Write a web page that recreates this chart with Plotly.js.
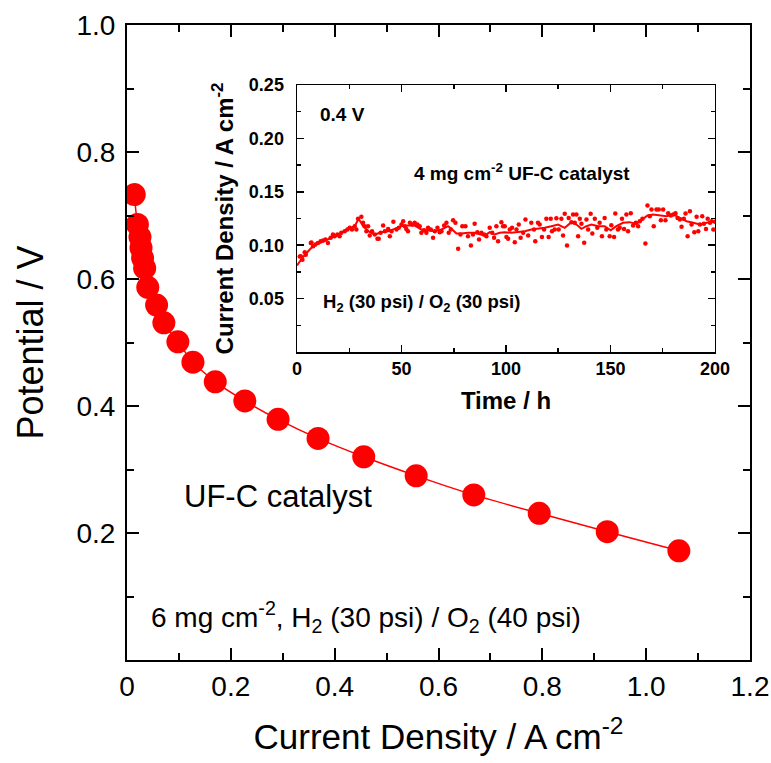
<!DOCTYPE html>
<html>
<head>
<meta charset="utf-8">
<script src="https://cdn.plot.ly/plotly-3.0.1.min.js"></script>
<style>html,body{margin:0;padding:0;background:#fff;}#chart{width:771px;height:763px;}</style>
</head>
<body>
<div id="chart"></div>
<script>
// Main polarization curve
const currentDensity = [0.014, 0.020, 0.025, 0.027, 0.030, 0.034, 0.040, 0.057, 0.071, 0.098, 0.127, 0.170, 0.227, 0.291, 0.368, 0.456, 0.557, 0.668, 0.794, 0.925, 1.063];
const potential = [0.733, 0.686, 0.666, 0.649, 0.633, 0.617, 0.587, 0.559, 0.531, 0.501, 0.469, 0.438, 0.408, 0.379, 0.349, 0.320, 0.290, 0.260, 0.231, 0.202, 0.172];

// Inset: durability test at 0.4 V (raw points)
const dotTime = [1.3, 1.8, 2.6, 3.7, 4.2, 6.6, 6.9, 7.7, 8.8, 10.0, 11.3, 12.5, 13.6, 14.8, 16.1, 17.2, 18.0, 19.3, 20.4, 21.2, 22.8, 24.1, 25.2, 26.3, 27.6, 28.4, 29.2, 30.8, 31.6, 32.4, 33.2, 34.0, 34.8, 35.9, 37.2, 38.5, 39.1, 40.0, 41.2, 42.0, 43.6, 44.4, 45.2, 46.1, 47.6, 48.7, 50.0, 50.8, 51.6, 52.3, 53.1, 54.0, 55.1, 56.3, 57.6, 58.7, 59.5, 60.8, 61.9, 62.7, 64.0, 65.1, 65.9, 67.2, 68.3, 69.1, 70.4, 71.5, 72.6, 73.6, 74.7, 75.8, 77.1, 78.2, 79.1, 80.6, 81.8, 83.2, 84.2, 85.0, 86.3, 87.1, 88.2, 89.5, 90.6, 92.2, 93.4, 94.3, 95.4, 96.2, 97.8, 98.6, 99.4, 100.2, 101.0, 101.8, 102.9, 104.2, 105.0, 106.1, 107.0, 108.2, 109.3, 110.6, 112.1, 113.4, 114.0, 115.3, 116.1, 117.2, 118.2, 119.3, 120.4, 121.4, 122.0, 123.3, 124.1, 125.2, 126.5, 127.3, 128.1, 129.2, 130.0, 131.3, 132.1, 132.9, 133.7, 134.5, 135.3, 136.1, 137.4, 138.5, 139.3, 140.5, 141.3, 142.5, 143.7, 144.8, 145.9, 147.2, 148.0, 149.6, 150.4, 151.7, 152.3, 153.6, 154.4, 155.5, 156.5, 157.6, 158.4, 159.7, 160.8, 162.1, 163.2, 164.0, 165.3, 166.7, 167.7, 168.8, 169.6, 170.7, 172.0, 173.1, 174.1, 175.2, 176.3, 177.6, 178.9, 180.0, 181.1, 182.1, 183.2, 184.0, 185.1, 185.9, 186.9, 188.0, 188.8, 190.1, 191.2, 192.0, 192.8, 193.9, 194.7, 195.7, 196.5, 197.6, 198.4, 199.2, 200.0];
const dotCurrent = [0.0895, 0.0897, 0.0863, 0.0934, 0.0910, 0.1020, 0.1026, 0.0990, 0.1006, 0.1020, 0.1038, 0.1044, 0.1053, 0.1020, 0.1069, 0.1100, 0.1084, 0.1100, 0.1084, 0.1116, 0.1130, 0.1147, 0.1163, 0.1147, 0.1178, 0.1147, 0.1247, 0.1266, 0.1210, 0.1178, 0.1130, 0.1178, 0.1090, 0.1130, 0.1100, 0.1060, 0.1060, 0.1116, 0.1184, 0.1130, 0.1153, 0.1084, 0.1130, 0.1219, 0.1147, 0.1163, 0.1194, 0.1225, 0.1178, 0.1153, 0.1130, 0.1210, 0.1194, 0.1210, 0.1194, 0.1178, 0.1116, 0.1140, 0.1116, 0.1163, 0.1147, 0.1069, 0.1130, 0.1163, 0.1122, 0.1130, 0.1184, 0.1210, 0.1116, 0.1147, 0.1234, 0.1210, 0.0966, 0.1100, 0.1178, 0.1178, 0.1084, 0.0997, 0.1100, 0.1200, 0.1122, 0.1053, 0.1116, 0.1100, 0.1084, 0.1163, 0.1116, 0.1069, 0.1178, 0.1038, 0.1216, 0.1178, 0.1178, 0.1078, 0.1060, 0.1147, 0.1163, 0.1028, 0.1147, 0.1194, 0.1069, 0.1116, 0.1240, 0.1090, 0.1210, 0.1147, 0.1038, 0.1210, 0.1194, 0.1078, 0.1147, 0.1247, 0.1078, 0.1247, 0.1130, 0.1147, 0.1253, 0.1147, 0.1247, 0.1090, 0.1294, 0.0997, 0.1256, 0.1216, 0.1288, 0.1210, 0.1288, 0.1084, 0.1247, 0.1200, 0.1022, 0.1240, 0.1147, 0.1294, 0.1110, 0.1247, 0.1163, 0.1210, 0.1084, 0.1256, 0.1147, 0.1084, 0.1188, 0.1078, 0.1297, 0.1147, 0.1163, 0.1247, 0.1153, 0.1288, 0.1130, 0.1300, 0.1184, 0.1210, 0.1178, 0.1225, 0.1247, 0.1016, 0.1372, 0.1272, 0.1334, 0.1178, 0.1334, 0.1334, 0.1234, 0.1334, 0.1234, 0.1300, 0.1278, 0.1288, 0.1300, 0.1256, 0.1240, 0.1172, 0.1247, 0.1297, 0.1084, 0.1319, 0.1194, 0.1122, 0.1266, 0.1130, 0.1194, 0.1272, 0.1200, 0.1153, 0.1247, 0.1210, 0.1225, 0.1147, 0.1219];

// Inset: smoothed trend line
const lineTime = [0.0, 2.9, 6.1, 8.5, 11.7, 14.8, 18.0, 21.2, 24.4, 27.6, 29.5, 31.6, 34.3, 37.2, 40.4, 43.6, 46.8, 50.0, 53.1, 56.3, 59.5, 62.7, 65.9, 69.1, 72.3, 73.9, 76.3, 78.7, 81.8, 85.0, 87.5, 89.8, 92.2, 94.6, 97.0, 99.4, 102.6, 105.8, 109.0, 112.1, 115.3, 118.5, 121.7, 124.9, 128.1, 131.3, 133.7, 136.1, 138.5, 140.9, 144.1, 147.2, 150.1, 152.8, 156.0, 159.2, 162.4, 164.8, 167.7, 170.4, 173.6, 176.8, 180.0, 183.2, 186.4, 189.6, 192.8, 196.0, 200.0];
const lineCurrent = [0.0810, 0.0890, 0.0960, 0.1006, 0.1028, 0.1053, 0.1084, 0.1116, 0.1153, 0.1178, 0.1247, 0.1178, 0.1130, 0.1100, 0.1122, 0.1130, 0.1153, 0.1178, 0.1184, 0.1184, 0.1147, 0.1140, 0.1130, 0.1147, 0.1178, 0.1153, 0.1109, 0.1109, 0.1116, 0.1116, 0.1100, 0.1090, 0.1122, 0.1100, 0.1116, 0.1122, 0.1116, 0.1122, 0.1130, 0.1147, 0.1153, 0.1163, 0.1178, 0.1194, 0.1163, 0.1216, 0.1194, 0.1153, 0.1178, 0.1194, 0.1178, 0.1178, 0.1140, 0.1178, 0.1210, 0.1216, 0.1200, 0.1234, 0.1278, 0.1288, 0.1278, 0.1272, 0.1288, 0.1256, 0.1225, 0.1210, 0.1194, 0.1210, 0.1225];

// Tick labels
const mainXTicks = [0, 0.2, 0.4, 0.6, 0.8, 1.0, 1.2];
const mainXText = ["0", "0.2", "0.4", "0.6", "0.8", "1.0", "1.2"];
const mainYTicks = [0.2, 0.4, 0.6, 0.8, 1.0];
const mainYText = ["0.2", "0.4", "0.6", "0.8", "1.0"];
const insetXTicks = [0, 50, 100, 150, 200];
const insetYTicks = [0.05, 0.10, 0.15, 0.20, 0.25];
const insetYText = ["0.05", "0.10", "0.15", "0.20", "0.25"];

const RED = "#ff0000";
const FONT = "Liberation Sans, Arial, sans-serif";

const traces = [
  {x: currentDensity, y: potential, type: "scatter", mode: "lines+markers",
   line: {color: RED, width: 1.5, shape: "spline", smoothing: 0.6},
   marker: {color: RED, size: 23}, xaxis: "x", yaxis: "y", hoverinfo: "skip"},
  {x: dotTime, y: dotCurrent, type: "scatter", mode: "markers",
   marker: {color: RED, size: 4.5}, xaxis: "x2", yaxis: "y2", hoverinfo: "skip"},
  {x: lineTime, y: lineCurrent, type: "scatter", mode: "lines",
   line: {color: RED, width: 2}, xaxis: "x2", yaxis: "y2", hoverinfo: "skip"}
];

const mainAxisCommon = {
  showline: true, linecolor: "#000", linewidth: 2, mirror: "allticks",
  ticks: "inside", ticklen: 12, tickwidth: 2, tickcolor: "#000",
  showgrid: false, zeroline: false,
  tickfont: {family: FONT, size: 28, color: "#000"}
};
const insetAxisCommon = {
  showline: true, linecolor: "#000", linewidth: 1.5, mirror: "allticks",
  ticks: "inside", ticklen: 7, tickwidth: 1.5, tickcolor: "#000",
  showgrid: false, zeroline: false,
  tickfont: {family: FONT, size: 18, color: "#000", weight: "bold"}
};

const layout = {
  width: 771, height: 763,
  margin: {l: 127, r: 21, t: 25, b: 103},
  paper_bgcolor: "#fff", plot_bgcolor: "rgba(0,0,0,0)",
  showlegend: false,
  xaxis: Object.assign({}, mainAxisCommon, {
    range: [0, 1.2], tickmode: "array", tickvals: mainXTicks, ticktext: mainXText,
    minor: {dtick: 0.1, tick0: 0, ticks: "inside", ticklen: 7, tickwidth: 2, tickcolor: "#000"},
    title: {text: "Current Density / A cm<sup>-2</sup>", font: {family: FONT, size: 35, color: "#000"}, standoff: 24}
  }),
  yaxis: Object.assign({}, mainAxisCommon, {
    range: [0, 1.0], tickmode: "array", tickvals: mainYTicks, ticktext: mainYText,
    minor: {dtick: 0.1, tick0: 0, ticks: "inside", ticklen: 7, tickwidth: 2, tickcolor: "#000"},
    ticklabelstandoff: 4,
    title: {text: "Potential / V", font: {family: FONT, size: 36, color: "#000"}, standoff: 22}
  }),
  xaxis2: Object.assign({}, insetAxisCommon, {
    domain: [0.2729, 0.9438], anchor: "y2", range: [0, 200],
    tickmode: "array", tickvals: insetXTicks,
    minor: {dtick: 25, tick0: 0, ticks: "inside", ticklen: 4, tickwidth: 1.5, tickcolor: "#000"},
    title: {text: "Time / h", font: {family: FONT, size: 24, color: "#000", weight: "bold"}, standoff: 14}
  }),
  yaxis2: Object.assign({}, insetAxisCommon, {
    domain: [0.485, 0.9055], anchor: "x2", range: [0, 0.25],
    tickmode: "array", tickvals: insetYTicks, ticktext: insetYText,
    minor: {dtick: 0.025, tick0: 0, ticks: "inside", ticklen: 4, tickwidth: 1.5, tickcolor: "#000"},
    ticklabelstandoff: 8,
    title: {text: "Current Density / A cm<sup>-2</sup>", font: {family: FONT, size: 24, color: "#000", weight: "bold"}, standoff: 8}
  }),
  annotations: [
    {text: "UF-C catalyst", xref: "x", yref: "y", x: 0.106, y: 0.257, xanchor: "left", yanchor: "middle",
     showarrow: false, font: {family: FONT, size: 31, color: "#000"}},
    {text: "6 mg cm<sup>-2</sup>, H<sub>2</sub> (30 psi) / O<sub>2</sub> (40 psi)", xref: "x", yref: "y", x: 0.042, y: 0.068,
     xanchor: "left", yanchor: "middle", showarrow: false, font: {family: FONT, size: 28, color: "#000"}},
    {text: "0.4 V", xref: "x2", yref: "y2", x: 10, y: 0.222, xanchor: "left", yanchor: "middle",
     showarrow: false, font: {family: FONT, size: 19, color: "#000", weight: "bold"}},
    {text: "4 mg cm<sup>-2</sup> UF-C catalyst", xref: "x2", yref: "y2", x: 55, y: 0.1686, xanchor: "left", yanchor: "middle",
     showarrow: false, font: {family: FONT, size: 19, color: "#000", weight: "bold"}},
    {text: "H<sub>2</sub> (30 psi) / O<sub>2</sub> (30 psi)", xref: "x2", yref: "y2", x: 11.5, y: 0.046, xanchor: "left", yanchor: "middle",
     showarrow: false, font: {family: FONT, size: 18.5, color: "#000", weight: "bold"}}
  ]
};

Plotly.newPlot("chart", traces, layout, {staticPlot: true, displayModeBar: false});
</script>
</body>
</html>
